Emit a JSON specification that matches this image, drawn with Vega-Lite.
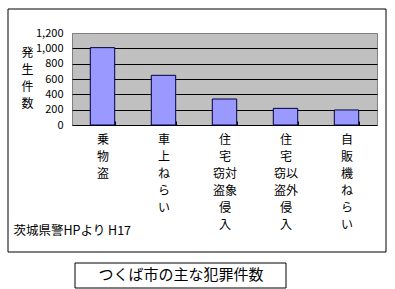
{
  "$schema": "https://vega.github.io/schema/vega-lite/v6.json",
  "width": 305,
  "height": 92,
  "autosize": {"type": "none"},
  "padding": {"left": 72, "top": 33, "right": 18, "bottom": 164},
  "background": "white",
  "config": {
    "view": {"fill": "#c0c0c0", "stroke": "#808080", "strokeWidth": 1},
    "font": "Noto Sans CJK JP"
  },
  "title": {
    "text": "つくば市の主な犯罪件数",
    "orient": "bottom",
    "anchor": "start",
    "frame": "group",
    "dx": 109,
    "align": "center",
    "offset": -21,
    "fontSize": 15,
    "fontWeight": "normal",
    "color": "black",
    "font": "Noto Sans CJK JP"
  },
  "layer": [
    {
      "data": {"values": [{"k": "frame"}]},
      "mark": {"type": "rect", "fill": "white", "fillOpacity": 0, "stroke": "black", "strokeWidth": 1},
      "encoding": {"x": {"value": -64}, "x2": {"value": 314}, "y": {"value": -24}, "y2": {"value": 219}}
    },
    {
      "data": {"values": [{"k": "titlebox"}]},
      "mark": {"type": "rect", "fill": "white", "fillOpacity": 0, "stroke": "black", "strokeWidth": 1},
      "encoding": {"x": {"value": 3}, "x2": {"value": 214}, "y": {"value": 230}, "y2": {"value": 255}}
    },
    {
      "data": {
        "values": [
          {"category": "乗物盗", "count": 1009},
          {"category": "車上ねらい", "count": 648},
          {"category": "住宅対象侵入窃盗", "count": 339},
          {"category": "住宅以外侵入窃盗", "count": 217},
          {"category": "自販機ねらい", "count": 196}
        ]
      },
      "mark": {"type": "bar", "fill": "#9999ff", "stroke": "#000040", "strokeWidth": 1},
      "encoding": {
        "x": {
          "field": "category",
          "type": "nominal",
          "sort": null,
          "scale": {"paddingInner": 0.6, "paddingOuter": 0.3},
          "axis": {
            "title": "茨城県警HPより H17",
            "titleX": -59,
            "titleY": 105,
            "titleAlign": "left",
            "titleAnchor": null,
            "titleBaseline": "middle",
            "titleFontSize": 12.5,
            "titleFontWeight": "normal",
            "titleColor": "black",
            "labelExpr": "datum.value == '乗物盗' ? ['乗','物','盗'] : datum.value == '車上ねらい' ? ['車','上','ね','ら','い'] : datum.value == '住宅対象侵入窃盗' ? ['　住','　宅','窃対','盗象','　侵','　入'] : datum.value == '住宅以外侵入窃盗' ? ['　住','　宅','窃以','盗外','　侵','　入'] : datum.value == '自販機ねらい' ? ['自','販','機','ね','ら','い'] : ''",
            "labelAngle": 0,
            "labelAlign": "center",
            "labelBaseline": "top",
            "labelFontSize": 12,
            "labelLineHeight": 17,
            "labelColor": "black",
            "labelPadding": 13,
            "labelOverlap": false,
            "labelBound": false,
            "tickBand": "extent",
            "tickSize": -4,
            "tickColor": "black",
            "domainColor": "black",
            "domainWidth": 1
          }
        },
        "y": {
          "field": "count",
          "type": "quantitative",
          "scale": {"domain": [0, 1200], "nice": false},
          "axis": {
            "values": [0, 200, 400, 600, 800, 1000, 1200],
            "format": ",d",
            "title": ["発", "生", "件", "数"],
            "titleAngle": 0,
            "titleX": -45,
            "titleY": 14,
            "titleAlign": "center",
            "titleBaseline": "top",
            "titleFontSize": 12,
            "titleLineHeight": 17,
            "titleFontWeight": "normal",
            "titleColor": "black",
            "labelFontSize": 11,
            "labelColor": "black",
            "labelPadding": 9,
            "ticks": false,
            "domain": false,
            "grid": true,
            "gridColor": {"condition": {"test": "datum.value == 1200 || datum.value == 0", "value": "#808080"}, "value": "black"},
            "gridOpacity": 1,
            "gridWidth": 1
          }
        }
      }
    }
  ]
}
